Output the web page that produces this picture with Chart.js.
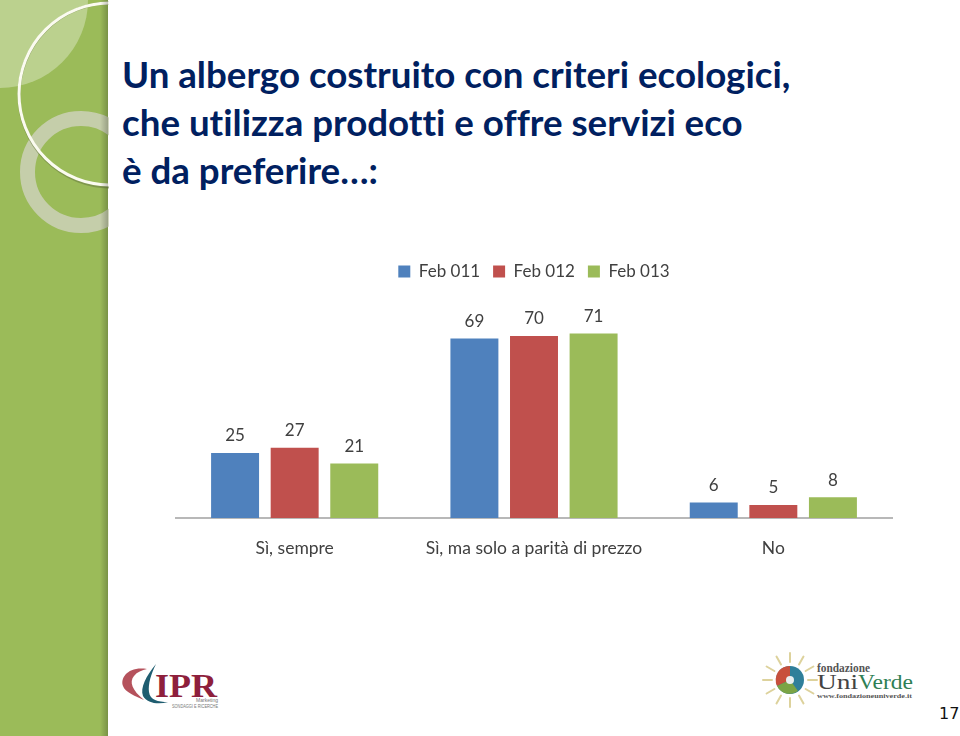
<!DOCTYPE html>
<html lang="it">
<head>
<meta charset="utf-8">
<title>Un albergo costruito con criteri ecologici</title>
<script src="https://cdn.jsdelivr.net/npm/chart.js@4"></script>
<style>
    html, body { margin: 0; padding: 0; background: #fff; overflow: hidden; }
    #slide { position: relative; width: 960px; height: 736px; overflow: hidden; }
    #side { position: absolute; left: 0; top: 0; }
    #title {
        position: absolute; left: 122px; top: 50px; margin: 0;
        font: 700 36.7px/48px Lato, sans-serif; color: #002060; white-space: nowrap;
        font-variant-ligatures: none;
    }
    #chart-box { position: absolute; left: 175px; top: 250px; width: 718px; height: 329px; }
    #logos { position: absolute; left: 0; top: 640px; }
    #page { position: absolute; left: 939px; top: 704px; font: 16px "DejaVu Sans", sans-serif; color: #111; }
</style>
</head>
<body>
<div id="slide">
    <svg id="side" width="109" height="736">
        <defs>
            <linearGradient id="edge" x1="0" x2="1" y1="0" y2="0">
                <stop offset="0" stop-color="#000" stop-opacity="0"/>
                <stop offset="1" stop-color="#000" stop-opacity=".22"/>
            </linearGradient>
        </defs>
        <rect width="108" height="736" fill="#9bbb59"/>
        <circle cx="0" cy="0" r="88" fill="#fff" fill-opacity=".32"/>
        <circle cx="81" cy="172" r="53.5" fill="none" stroke="#cdd1b8" stroke-opacity=".85" stroke-width="15"/>
        <circle cx="111" cy="95" r="92" fill="none" stroke="#6d7f45" stroke-opacity=".6" stroke-width="3"/>
        <circle cx="110" cy="94" r="91" fill="none" stroke="#fbfbf0" stroke-width="3"/>
        <rect x="100" width="8" height="736" fill="url(#edge)"/>
    </svg>
    <h1 id="title">Un albergo costruito con criteri ecologici,<br>che utilizza prodotti e offre servizi eco<br>è da preferire…:</h1>
    <div id="chart-box"><canvas id="chart"></canvas></div>
    <svg id="logos" width="960" height="96">
        <path d="M147 29C128 26 120 38 123 46C125 52 135 56 144 60C132 50 129 42 134 36C137 32 142 30 147 29Z" fill="#b5525c"/>
        <path d="M156 24C146 36 140 48 143 56C147 63 158 65 168 62C158 62 150 60 149 52C148 44 151 34 156 24Z" fill="#1f5d70"/>
        <text x="155" y="57" font-family="Liberation Serif" font-weight="700" font-size="33" fill="#8e1f3c" textLength="62" lengthAdjust="spacingAndGlyphs">IPR</text>
        <text x="218" y="62" text-anchor="end" font-family="Liberation Sans" font-size="5" fill="#777">Marketing</text>
        <text x="172" y="68" font-family="Liberation Sans" font-size="5.5" fill="#777" textLength="46" lengthAdjust="spacingAndGlyphs">SONDAGGI E RICERCHE</text>
        <g transform="translate(790,40)" stroke="#ddd29c" stroke-width="2" stroke-linecap="round">
            <path d="M18 0H27M-18 0H-27M0 18V27M0 -18V-27M15.6 9L23.4 13.5M9 15.6L13.5 23.4M-15.6 9L-23.4 13.5M-9 15.6L-13.5 23.4M15.6 -9L23.4 -13.5M9 -15.6L13.5 -23.4M-15.6 -9L-23.4 -13.5M-9 -15.6L-13.5 -23.4"/>
        </g>
        <circle cx="790" cy="40" r="14" fill="#2f7f9a"/>
        <path d="M790 26A14 14 0 0 0 777 46L790 40Z" fill="#c8503c"/>
        <path d="M777 46A14 14 0 0 0 798 51L790 40Z" fill="#7ba445"/>
        <circle cx="790" cy="40" r="4" fill="#e8eef0"/>
        <text x="817" y="32" font-family="Liberation Serif" font-weight="700" font-size="12" fill="#555" textLength="53" lengthAdjust="spacingAndGlyphs">fondazione</text>
        <text x="817" y="49" font-family="Liberation Serif" font-size="21" fill="#444" textLength="41" lengthAdjust="spacingAndGlyphs">Uni</text>
        <text x="858" y="49" font-family="Liberation Serif" font-size="21" fill="#2f7f55" textLength="55" lengthAdjust="spacingAndGlyphs">Verde</text>
        <text x="817" y="58" font-family="Liberation Serif" font-weight="700" font-size="7" fill="#555" textLength="95" lengthAdjust="spacingAndGlyphs">www.fondazioneuniverde.it</text>
    </svg>
    <div id="page">17</div>
</div>
<script>
    "use strict";

    var categories = ["Sì, sempre", "Sì, ma solo a parità di prezzo", "No"];
    var feb011 = [25, 69, 6];
    var feb012 = [27, 70, 5];
    var feb013 = [21, 71, 8];

    // Value labels above the bars
    var barLabels = {
        id: "barLabels",
        afterDatasetsDraw: function (chart) {
            var ctx = chart.ctx;
            ctx.save();
            ctx.font = "17px Lato, sans-serif";
            ctx.fillStyle = "#404040";
            ctx.textAlign = "center";
            ctx.textBaseline = "middle";
            chart.data.datasets.forEach(function (ds, i) {
                chart.getDatasetMeta(i).data.forEach(function (bar, j) {
                    ctx.fillText(ds.data[j], bar.x, bar.y - 17);
                });
            });
            ctx.restore();
        },
    };

    // Extra room between the legend and the bars
    var legendGap = {
        id: "legendGap",
        beforeInit: function (chart) {
            var fit = chart.legend.fit;
            chart.legend.fit = function () {
                fit.call(this);
                this.height += 20;
            };
        },
    };

    new Chart(document.getElementById("chart"), {
        type: "bar",
        plugins: [barLabels, legendGap],
        data: {
            labels: categories,
            datasets: [
                { label: "Feb 011", data: feb011, backgroundColor: "#4f81bd" },
                { label: "Feb 012", data: feb012, backgroundColor: "#c0504d" },
                { label: "Feb 013", data: feb013, backgroundColor: "#9bbb59" },
            ],
        },
        options: {
            responsive: true,
            maintainAspectRatio: false,
            animation: false,
            categoryPercentage: 0.747,
            barPercentage: 0.805,
            layout: { padding: { top: 0, bottom: 0 } },
            plugins: {
                tooltip: { enabled: false },
                legend: {
                    position: "top",
                    labels: {
                        boxWidth: 12,
                        boxHeight: 12,
                        padding: 13,
                        color: "#404040",
                        font: { family: "Lato, sans-serif", size: 17 },
                    },
                },
            },
            scales: {
                x: {
                    grid: { display: false, drawTicks: false },
                    border: { color: "#b8b8b8", width: 2 },
                    ticks: {
                        padding: 20,
                        color: "#404040",
                        font: { family: "Lato, sans-serif", size: 17.5 },
                    },
                },
                y: { display: false, min: 0, max: 80 },
            },
        },
    });
</script>
</body>
</html>
